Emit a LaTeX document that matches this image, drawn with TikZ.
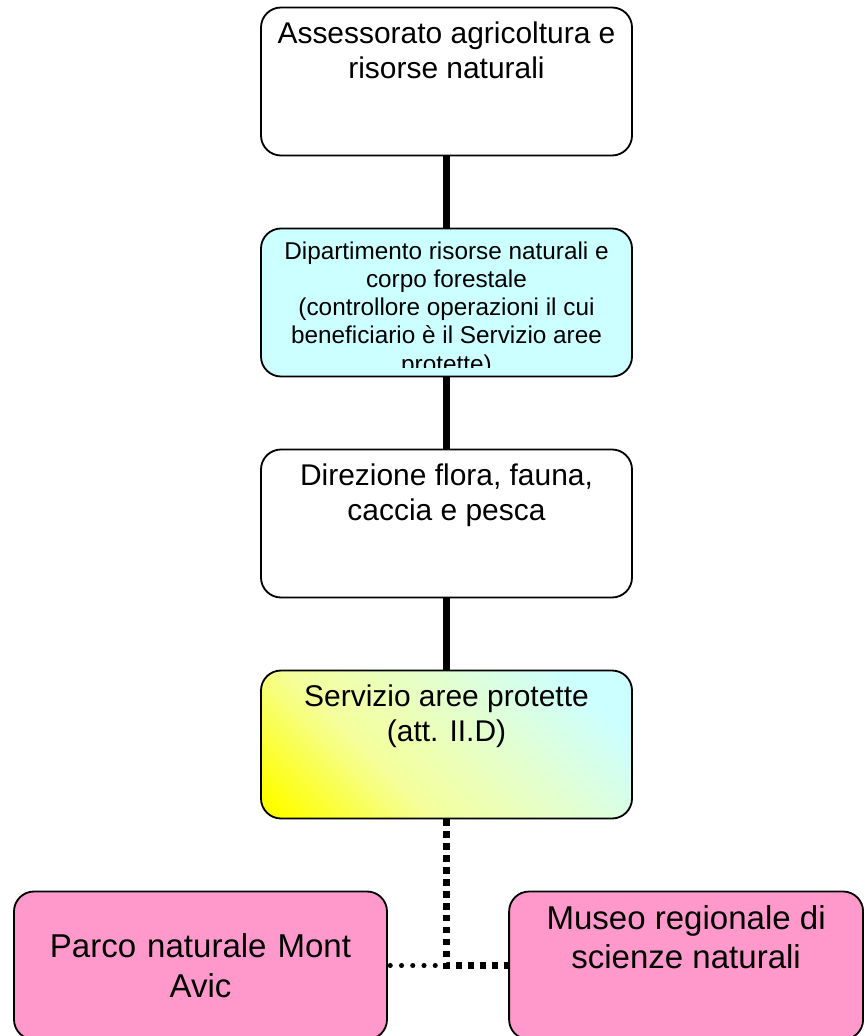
\documentclass[tikz,border=0pt]{standalone}
\usepackage{fontspec}
\setmainfont{Liberation Sans}
\usepackage{tikz}
\usetikzlibrary{shapes,arrows}
\definecolor{lightCyan}{HTML}{CCFFFF}
\definecolor{paleLime}{HTML}{E6FFC8}
\definecolor{softYellow}{HTML}{F4FF9A}
\definecolor{parkPink}{HTML}{FF99CC}
\pgfdeclareverticalshading{servGrad}{100bp}{color(0bp)=(yellow); color(18bp)=(yellow);
color(38bp)=(softYellow); color(55bp)=(paleLime); color(76bp)=(lightCyan); color(100bp)=(lightCyan)}
\newcommand{\boxtop}[2]{\parbox[c][3.0cm][t]{#1}{\centering #2}}
\tikzstyle{office} = [draw=black, line width=1.3pt, rectangle, rounded corners=0.5cm,
minimum width=9.275cm, minimum height=3.7cm, inner xsep=0.15cm, inner ysep=0.35cm,
font=\fontsize{21.3}{25.2}\selectfont]
\tikzstyle{unit} = [office, fill=white]
\tikzstyle{dept} = [office, fill=lightCyan]
\tikzstyle{deptText} = [inner sep=0pt, align=center, anchor=north, yshift=-0.15cm,
font=\fontsize{17.3}{20.1}\selectfont]
\tikzstyle{service} = [office, shade, shading=servGrad, shading angle=-45]
\tikzstyle{park} = [office, fill=parkPink, font=\fontsize{23.5}{28}\selectfont]
\tikzstyle{solidLink} = [line width=4.3pt]
\tikzstyle{dashLink} = [line width=4.3pt, dash pattern=on 4.6pt off 3.9pt]
\tikzstyle{dotLink} = [line width=3.6pt, line cap=round, dash pattern=on 0pt off 8pt]

\begin{document}
\begin{tikzpicture}[node distance=5.525cm]
		\useasboundingbox (0,0) rectangle (21.6,-25.9);
		%blocks
		\node[unit](assess) at (11.1625,-2.0375){\boxtop{8.9cm}{Assessorato agricoltura e\\risorse naturali}};
		\node[dept, below of=assess, path picture={
			\clip ([yshift=0.22cm]path picture bounding box.south west) rectangle (path picture bounding box.north east);
			\node[deptText] at (path picture bounding box.north){Dipartimento risorse naturali e\\corpo forestale\\(controllore operazioni il cui\\beneficiario è il Servizio aree\\protette)};
		}](dip){};
		\node[unit, below of=dip](direz){\boxtop{8.9cm}{Direzione flora, fauna,\\caccia e pesca}};
		\node[service, below of=direz](serv){\boxtop{8.9cm}{Servizio aree protette\\(att. II.D)}};
		\node[park, below of=serv, xshift=-6.15cm, minimum width=9.325cm, align=center, text width=9cm](parco){Parco naturale Mont\\Avic};
		\node[park, below of=serv, xshift=5.99cm, minimum width=8.85cm](museo){\boxtop{8.5cm}{Museo regionale di\\scienze naturali}};
		\coordinate (junc) at (serv.south |- museo.west);

		%links
		\draw[solidLink](assess)--(dip);
		\draw[solidLink](dip)--(direz);
		\draw[solidLink](direz)--(serv);
		\draw[dashLink](serv.south)|-(museo.west);
		\draw[dotLink](junc)--(parco.east);
	\end{tikzpicture}
\end{document}
